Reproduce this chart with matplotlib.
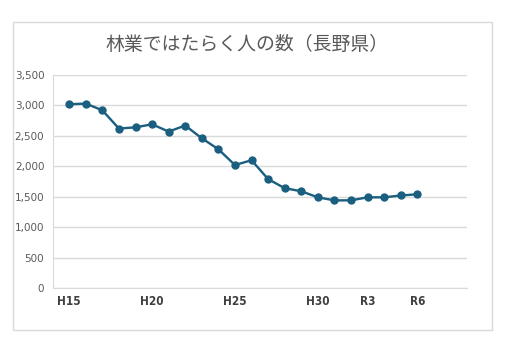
import matplotlib.pyplot as plt
from matplotlib.patches import Rectangle

plt.rcParams['font.family'] = ['Noto Sans CJK JP', 'DejaVu Sans']

# data (years in western calendar, H15 = 2003 ... R6 = 2024)
years = [2003, 2004, 2005, 2006, 2007, 2008, 2009, 2010, 2011, 2012, 2013,
         2014, 2015, 2016, 2017, 2018, 2019, 2020, 2021, 2022, 2023, 2024]
workers = [3020, 3030, 2920, 2620, 2640, 2690, 2570, 2670, 2460, 2280, 2020,
           2100, 1790, 1640, 1590, 1490, 1440, 1440, 1490, 1490, 1520, 1540]
tick_years = [2003, 2008, 2013, 2018, 2021, 2024]
tick_labels = ['H15', 'H20', 'H25', 'H30', 'R3', 'R6']
yticks = [0, 500, 1000, 1500, 2000, 2500, 3000, 3500]

fig = plt.figure(figsize=(5.16, 3.48), dpi=100)
ax = fig.add_axes([0.102, 0.1724, 0.803, 0.6121])

# chart border
fig.patches.append(Rectangle((0.0252, 0.0517), 0.928, 0.885, transform=fig.transFigure,
                             fill=False, edgecolor='#d9d9d9', linewidth=1))

ax.plot(years, workers, color='#1a5e80', linewidth=1.7, marker='o', markersize=5)

ax.set_xlim(2002, 2027)
ax.set_ylim(0, 3500)
ax.set_yticks(yticks)
ax.set_yticklabels([f'{v:,}' for v in yticks], color='#595959', fontsize=7.5,
                   family='DejaVu Sans')
ax.set_xticks(tick_years)
ax.set_xticklabels(tick_labels, color='#404040', fontsize=8.5, fontweight='bold',
                   family='DejaVu Sans', fontstretch='condensed')
ax.tick_params(length=0, pad=6)
ax.tick_params(axis='x', pad=5)

ax.grid(axis='y', color='#d9d9d9', linewidth=1)
ax.set_axisbelow(True)
for s in ['top', 'right']:
    ax.spines[s].set_visible(False)
ax.spines['left'].set_color('#d9d9d9')
ax.spines['bottom'].set_color('#d9d9d9')

fig.text(0.479, 0.873, '林業ではたらく人の数（長野県）', ha='center', va='center',
         fontsize=13.6, color='#595959')

fig.savefig('out.png', dpi=100)
